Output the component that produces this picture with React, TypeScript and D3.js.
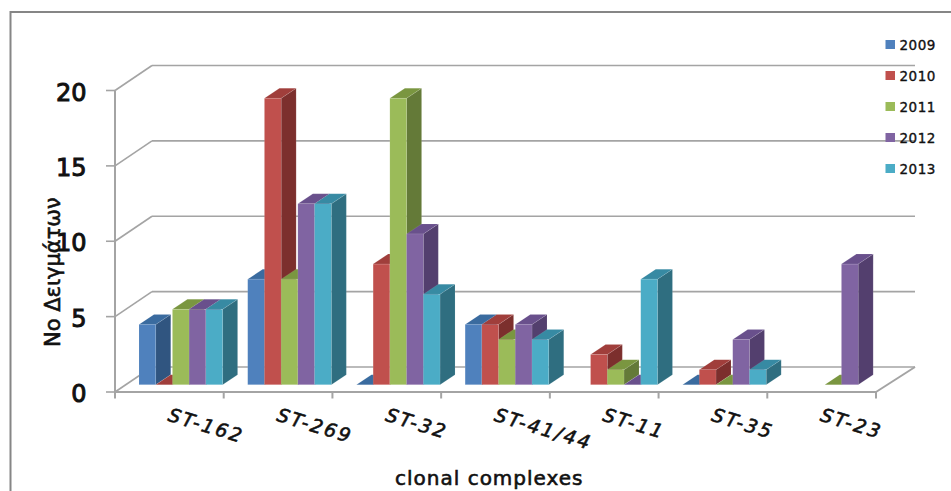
import React from "react";
import * as d3 from "d3";

const categories = ["ST-162", "ST-269", "ST-32", "ST-41/44", "ST-11", "ST-35", "ST-23"];
const years = ["2009", "2010", "2011", "2012", "2013"];
const values2009 = [4, 7, 0, 4, null, 0, null];
const values2010 = [0, 19, 8, 4, 2, 1, null];
const values2011 = [5, 7, 19, 3, 1, 0, 0];
const values2012 = [5, 12, 10, 4, 0, 3, 8];
const values2013 = [5, 12, 6, 3, 7, 1, null];
const series = [values2009, values2010, values2011, values2012, values2013];
const yTicks = [0, 5, 10, 15, 20];

const frontFaces = ["#4f81bd", "#c0504d", "#9bbb59", "#8064a2", "#4bacc6"];
const sideFaces = ["#305580", "#7c2f2d", "#647a38", "#533f6e", "#2f6e80"];
const topFaces = ["#3a6b9f", "#a03e3b", "#7a9640", "#69508c", "#378aa3"];

const WIDTH = 951;
const HEIGHT = 491;
const GRID = "#a4a4a4";

// Oblique projection of the chart box: front plane plus wall and bar depth.
const wallDepth = { dx: 37, dy: -25 };
const barDepth = { dx: 15, dy: -10 };
const barLift = 7.3;

const x = d3.scaleBand<string>().domain(categories).range([115, 876]);
const y = d3.scaleLinear().domain([0, 20]).range([392, 90.5]);
const inner = d3.scaleBand<string>().domain(years).range([24, 107.6]);
const legendY = d3.scalePoint<string>().domain(years).range([44.5, 168.5]);

const pts = (list: number[][]) => list.map((p) => p.join(",")).join(" ");

function Bar({ cat, yearIndex, value }: { cat: string; yearIndex: number; value: number }) {
  const year = years[yearIndex];
  const x0 = (x(cat) as number) + (inner(year) as number);
  const x1 = x0 + inner.bandwidth();
  const base = y(0) - barLift;
  const top = y(value) - barLift;
  const { dx, dy } = barDepth;
  const edge = { strokeWidth: 0.5, strokeOpacity: 0.18, stroke: "#ffffff" };
  return (
    <g>
      <polygon
        points={pts([[x1, base], [x1 + dx, base + dy], [x1 + dx, top + dy], [x1, top]])}
        fill={sideFaces[yearIndex]}
        {...edge}
      />
      <polygon
        points={pts([[x0, top], [x1, top], [x1 + dx, top + dy], [x0 + dx, top + dy]])}
        fill={topFaces[yearIndex]}
        {...edge}
      />
      {value > 0 && (
        <rect x={x0} y={top} width={x1 - x0} height={base - top} fill={frontFaces[yearIndex]} {...edge} />
      )}
    </g>
  );
}

export default function App() {
  const left = 115;
  const right = 876;
  const font = "'DejaVu Sans', sans-serif";
  return (
    <svg
      width={WIDTH}
      height={HEIGHT}
      viewBox={`0 0 ${WIDTH} ${HEIGHT}`}
      style={{ position: "absolute", left: 0, top: 0, display: "block", background: "#fff" }}
    >
      {/* outer chart frame, open on the right and bottom */}
      <path d={`M10.5,${HEIGHT} V12 H${WIDTH}`} fill="none" stroke="#868686" strokeWidth={2} />

      {/* back wall and side wall gridlines */}
      {yTicks.map((t) => (
        <g key={t} stroke={GRID} strokeWidth={1.6} fill="none">
          <line x1={left} y1={y(t)} x2={left + wallDepth.dx} y2={y(t) + wallDepth.dy} />
          <line
            x1={left + wallDepth.dx}
            y1={y(t) + wallDepth.dy}
            x2={right + wallDepth.dx + 2}
            y2={y(t) + wallDepth.dy}
          />
          <line x1={left - 9} y1={y(t)} x2={left} y2={y(t)} />
        </g>
      ))}

      {/* front axes and floor edge */}
      <g stroke={GRID} strokeWidth={2} fill="none">
        <line x1={left} y1={y(0)} x2={left} y2={y(20)} />
        <line x1={left} y1={y(0)} x2={right} y2={y(0)} />
        <line x1={right} y1={y(0)} x2={right + wallDepth.dx + 2} y2={y(0) + wallDepth.dy} />
        {[...categories.map((c) => x(c) as number), right].map((tx) => (
          <line key={tx} x1={tx} y1={y(0)} x2={tx} y2={y(0) + 6.5} />
        ))}
      </g>

      {/* bars, painted left to right so nearer faces cover earlier ones */}
      {categories.map((cat, ci) => (
        <g key={cat}>
          {series.map((vals, si) =>
            vals[ci] === null ? null : (
              <Bar key={years[si]} cat={cat} yearIndex={si} value={vals[ci] as number} />
            )
          )}
        </g>
      ))}

      {/* value axis labels */}
      {yTicks.map((t) => (
        <text
          key={t}
          x={86.5}
          y={y(t) + 10}
          textAnchor="end"
          fontFamily={font}
          fontSize={24}
          fill="#111"
          stroke="#111"
          strokeWidth={1}
        >
          {t}
        </text>
      ))}

      {/* category labels */}
      {categories.map((cat) => (
        <text
          key={cat}
          transform={`translate(${(x(cat) as number) + 52},420.5) rotate(17)`}
          fontFamily={font}
          fontStyle="italic"
          fontSize={19}
          letterSpacing={2.3}
          fill="#111"
          stroke="#111"
          strokeWidth={0.6}
        >
          {cat}
        </text>
      ))}

      {/* axis titles */}
      <text
        transform="translate(60,347) rotate(-90)"
        fontFamily={font}
        fontSize={21}
        fill="#111"
        stroke="#111"
        strokeWidth={0.6}
      >
        Νο Δειγμάτων
      </text>
      <text
        x={395}
        y={485}
        fontFamily={font}
        fontSize={20}
        letterSpacing={1}
        fill="#111"
        stroke="#111"
        strokeWidth={0.6}
      >
        clonal complexes
      </text>

      {/* legend */}
      {years.map((year, i) => (
        <g key={year}>
          <rect x={885.5} y={(legendY(year) as number) - 4.5} width={9.5} height={9} fill={frontFaces[i]} />
          <text
            x={899.5}
            y={(legendY(year) as number) + 5}
            fontFamily={font}
            fontSize={13.5}
            letterSpacing={0.5}
            fill="#111"
            stroke="#111"
            strokeWidth={0.35}
          >
            {year}
          </text>
        </g>
      ))}
    </svg>
  );
}
